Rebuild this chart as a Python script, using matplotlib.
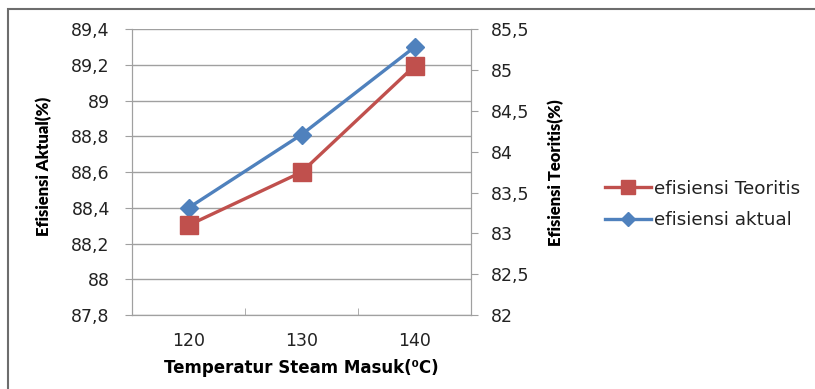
import matplotlib
matplotlib.use('Agg')
import matplotlib.pyplot as plt
from matplotlib.ticker import FuncFormatter, FixedLocator
from matplotlib.patches import Rectangle

# data
temperatures = ['120', '130', '140']
eff_aktual = [88.4, 88.81, 89.3]
eff_teoritis = [83.1, 83.75, 85.05]

red = '#C0504D'
blue = '#4F81BD'
grid_col = '#a0a0a0'
txt = '#222222'

plt.rcParams['font.family'] = ['DejaVu Sans']
plt.rcParams['text.color'] = txt
plt.rcParams['xtick.labelcolor'] = txt
plt.rcParams['ytick.labelcolor'] = txt

fig = plt.figure(figsize=(8.15, 3.89), dpi=100)
ax = fig.add_axes([0.162, 0.190, 0.416, 0.735])
ax2 = ax.twinx()

x = range(len(temperatures))

# left axis: actual efficiency
ax.plot(x, eff_aktual, color=blue, lw=2.4, marker='D', ms=9.5,
        label='efisiensi aktual', zorder=3)
ax.set_ylim(87.8, 89.4)
ax.set_yticks([87.8 + 0.2 * i for i in range(9)])
ax.set_xlim(-0.5, 2.5)
ax.set_xticks(list(x))
ax.set_xticklabels(temperatures)
ax.xaxis.set_minor_locator(FixedLocator([-0.5, 0.5, 1.5, 2.5]))
ax.tick_params(axis='x', which='major', length=0, pad=12, labelsize=12.5)
ax.tick_params(axis='x', which='minor', direction='in', length=5, color=grid_col)
ax.tick_params(axis='y', direction='out', length=5, color=grid_col, labelsize=12.5, pad=11)
ax.grid(axis='y', color=grid_col, lw=1)
ax.set_axisbelow(True)

comma = FuncFormatter(lambda v, p: ('%g' % round(v, 2)).replace('.', ','))
ax.yaxis.set_major_formatter(comma)

# right axis: theoretical efficiency
ax2.plot(x, eff_teoritis, color=red, lw=2.4, marker='s', ms=13,
         label='efisiensi Teoritis', zorder=3)
ax2.set_ylim(82, 85.5)
ax2.set_yticks([82 + 0.5 * i for i in range(8)])
ax2.yaxis.set_major_formatter(comma)
ax2.tick_params(axis='y', direction='out', length=5, color=grid_col, labelsize=12.5, pad=9)

for a in (ax, ax2):
    a.spines['top'].set_visible(False)
    for s in ('left', 'right', 'bottom'):
        a.spines[s].set_color(grid_col)

ax.set_ylabel('Efisiensi Aktual(%)', family='Lato', fontsize=12, fontweight='heavy')
ax2.set_ylabel('Efisiensi Teoritis(%)', family='Lato', fontsize=12, fontweight='heavy')
ax.yaxis.set_label_coords(-0.235, 0.52)
ax2.yaxis.set_label_coords(1.225, 0.5)
ax.set_xlabel('Temperatur Steam Masuk(\u2070C)', fontsize=12, fontweight='bold', labelpad=7)

# legend, theoretical series first
h1, l1 = ax2.get_legend_handles_labels()
h2, l2 = ax.get_legend_handles_labels()
fig.legend(h1 + h2, l1 + l2, loc='center left', bbox_to_anchor=(0.722, 0.474),
           frameon=False, fontsize=13.2, handlelength=2.5, handletextpad=0.15,
           labelspacing=0.75, markerscale=0.75)

# chart border
fig.add_artist(Rectangle((8 / 815, -0.2), 1.2, 1 - 9 / 389 + 0.2,
                         transform=fig.transFigure, fill=False,
                         edgecolor='#6d6d6d', lw=1.5))

fig.savefig('out.png', dpi=100)
